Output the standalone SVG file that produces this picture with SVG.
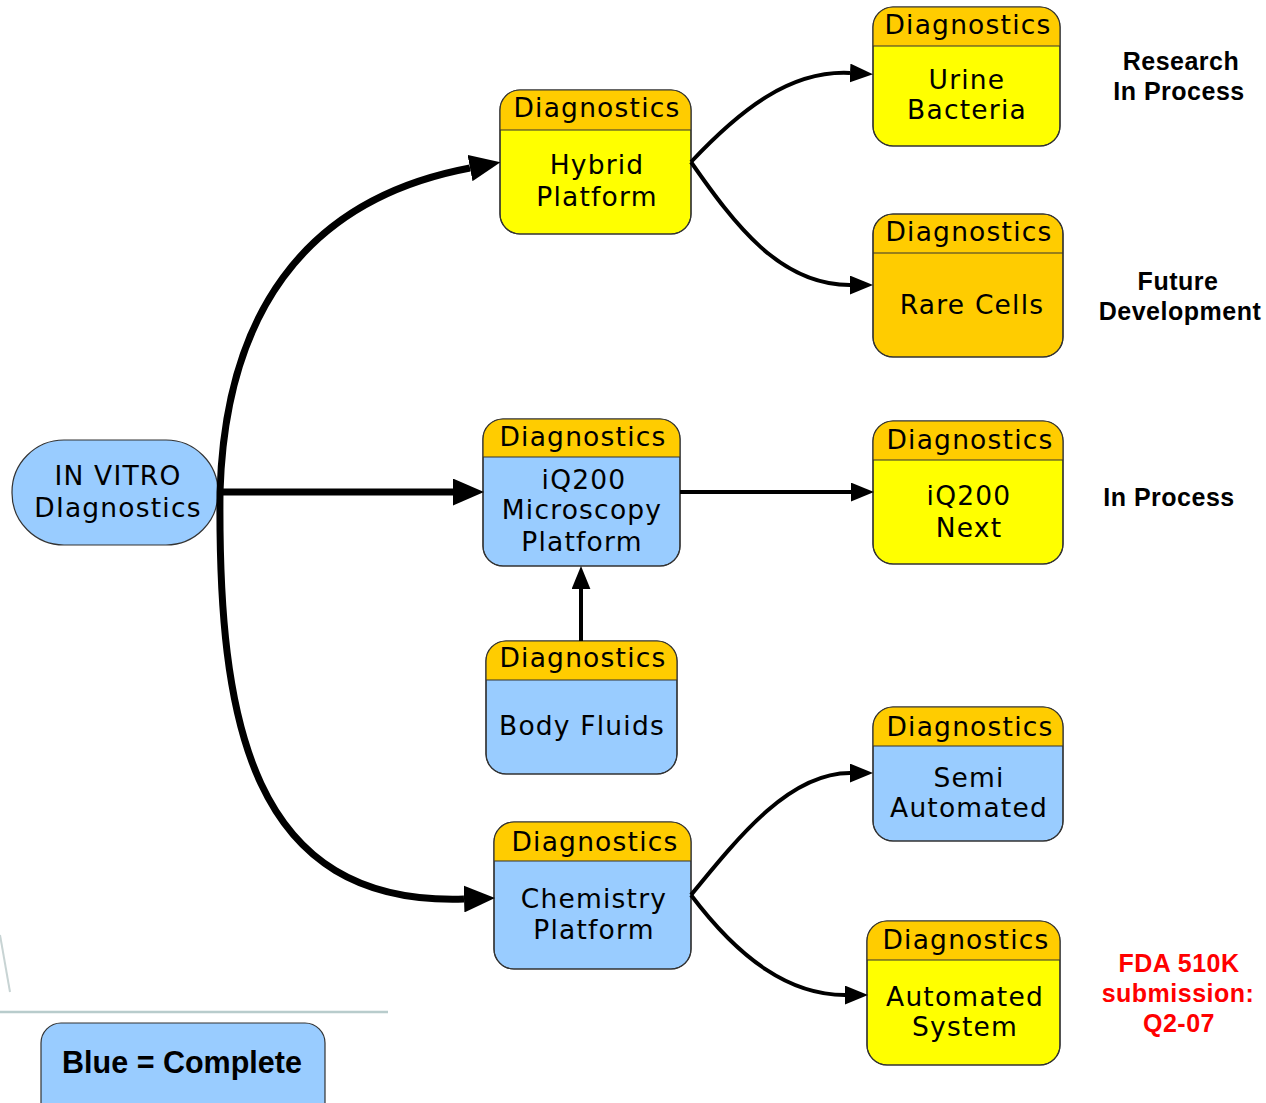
<svg xmlns="http://www.w3.org/2000/svg" width="1266" height="1103" viewBox="0 0 1266 1103">
<defs>
<style>
.box{stroke:#333;stroke-width:1.2}
.blue{fill:#99ccff}
.yel{fill:#ffff00}
.org{fill:#ffcc00}
.hdr{fill:#ffcc00}
.div{stroke:#333;stroke-width:1.2}
.outl{fill:none;stroke:#333;stroke-width:1.2}
.t{font-family:"DejaVu Sans",Verdana,sans-serif;font-size:26.5px;letter-spacing:1.2px;fill:#000;text-anchor:middle}
.lab{font-family:"Liberation Sans",Arial,sans-serif;font-weight:bold;font-size:25px;letter-spacing:0.5px;fill:#000;text-anchor:middle}
.red{fill:#ff0000}
.thick{fill:none;stroke:#000;stroke-width:7}
.thin{fill:none;stroke:#000;stroke-width:4}
</style>
<marker id="ah" markerUnits="userSpaceOnUse" markerWidth="31" markerHeight="27" viewBox="0 0 30 26" refX="0" refY="13" orient="auto"><path d="M0,0 L30,13 L0,26 Z" fill="#000"/></marker>
<marker id="as" markerUnits="userSpaceOnUse" markerWidth="23" markerHeight="19" viewBox="0 0 22 18" refX="0" refY="9" orient="auto"><path d="M0,0 L22,9 L0,18 Z" fill="#000"/></marker>
</defs>
<rect width="1266" height="1103" fill="#fff"/>
<g id="background">
<line x1="0" y1="1012" x2="388" y2="1012" stroke="#b8cccc" stroke-width="2.5"/>
<line x1="0" y1="935" x2="10" y2="992" stroke="#c8d4d4" stroke-width="2"/>
</g>

<g id="invitro">
<rect x="12" y="440" width="206" height="105" rx="52" class="blue box"/>
<text class="t" x="118" y="485">IN VITRO</text>
<text class="t" x="118" y="517">DIagnostics</text>
</g>

<g id="hybrid">
<rect x="500" y="90" width="191" height="144" rx="20" class="yel box"/>
<path d="M500,130 V110 A20,20 0 0 1 520,90 H671 A20,20 0 0 1 691,110 V130 Z" class="hdr"/>
<line x1="500" y1="130" x2="691" y2="130" class="div"/>
<rect x="500" y="90" width="191" height="144" rx="20" class="outl"/>
<text class="t" x="597" y="117">Diagnostics</text>
<text class="t" x="597" y="174">Hybrid</text>
<text class="t" x="597" y="206">Platform</text>
</g>

<g id="urine">
<rect x="873" y="7" width="187" height="139" rx="20" class="yel box"/>
<path d="M873,46 V27 A20,20 0 0 1 893,7 H1040 A20,20 0 0 1 1060,27 V46 Z" class="hdr"/>
<line x1="873" y1="46" x2="1060" y2="46" class="div"/>
<rect x="873" y="7" width="187" height="139" rx="20" class="outl"/>
<text class="t" x="968" y="34">Diagnostics</text>
<text class="t" x="967" y="89">Urine</text>
<text class="t" x="967" y="119">Bacteria</text>
</g>

<g id="rare">
<rect x="873" y="214" width="190" height="143" rx="20" class="org box"/>
<line x1="873" y1="253" x2="1063" y2="253" class="div"/>
<rect x="873" y="214" width="190" height="143" rx="20" class="outl"/>
<text class="t" x="969" y="241">Diagnostics</text>
<text class="t" x="972" y="314">Rare Cells</text>
</g>

<g id="microscopy">
<rect x="483" y="419" width="197" height="147" rx="20" class="blue box"/>
<path d="M483,457 V439 A20,20 0 0 1 503,419 H660 A20,20 0 0 1 680,439 V457 Z" class="hdr"/>
<line x1="483" y1="457" x2="680" y2="457" class="div"/>
<rect x="483" y="419" width="197" height="147" rx="20" class="outl"/>
<text class="t" x="583" y="446">Diagnostics</text>
<text class="t" x="584" y="489">iQ200</text>
<text class="t" x="582" y="519">Microscopy</text>
<text class="t" x="582" y="551">Platform</text>
</g>

<g id="next">
<rect x="873" y="421" width="190" height="143" rx="20" class="yel box"/>
<path d="M873,460 V441 A20,20 0 0 1 893,421 H1043 A20,20 0 0 1 1063,441 V460 Z" class="hdr"/>
<line x1="873" y1="460" x2="1063" y2="460" class="div"/>
<rect x="873" y="421" width="190" height="143" rx="20" class="outl"/>
<text class="t" x="970" y="449">Diagnostics</text>
<text class="t" x="969" y="505">iQ200</text>
<text class="t" x="969" y="537">Next</text>
</g>

<g id="bodyfluids">
<rect x="486" y="641" width="191" height="133" rx="20" class="blue box"/>
<path d="M486,680 V661 A20,20 0 0 1 506,641 H657 A20,20 0 0 1 677,661 V680 Z" class="hdr"/>
<line x1="486" y1="680" x2="677" y2="680" class="div"/>
<rect x="486" y="641" width="191" height="133" rx="20" class="outl"/>
<text class="t" x="583" y="667">Diagnostics</text>
<text class="t" x="582" y="735">Body Fluids</text>
</g>

<g id="semi">
<rect x="873" y="707" width="190" height="134" rx="20" class="blue box"/>
<path d="M873,746 V727 A20,20 0 0 1 893,707 H1043 A20,20 0 0 1 1063,727 V746 Z" class="hdr"/>
<line x1="873" y1="746" x2="1063" y2="746" class="div"/>
<rect x="873" y="707" width="190" height="134" rx="20" class="outl"/>
<text class="t" x="970" y="736">Diagnostics</text>
<text class="t" x="969" y="787">Semi</text>
<text class="t" x="969" y="817">Automated</text>
</g>

<g id="chemistry">
<rect x="494" y="822" width="197" height="147" rx="20" class="blue box"/>
<path d="M494,861 V842 A20,20 0 0 1 514,822 H671 A20,20 0 0 1 691,842 V861 Z" class="hdr"/>
<line x1="494" y1="861" x2="691" y2="861" class="div"/>
<rect x="494" y="822" width="197" height="147" rx="20" class="outl"/>
<text class="t" x="595" y="851">Diagnostics</text>
<text class="t" x="594" y="908">Chemistry</text>
<text class="t" x="594" y="939">Platform</text>
</g>

<g id="automated">
<rect x="867" y="921" width="193" height="144" rx="20" class="yel box"/>
<path d="M867,960 V941 A20,20 0 0 1 887,921 H1040 A20,20 0 0 1 1060,941 V960 Z" class="hdr"/>
<line x1="867" y1="960" x2="1060" y2="960" class="div"/>
<rect x="867" y="921" width="193" height="144" rx="20" class="outl"/>
<text class="t" x="966" y="949">Diagnostics</text>
<text class="t" x="965" y="1006">Automated</text>
<text class="t" x="965" y="1036">System</text>
</g>

<g id="legend">
<rect x="41" y="1023" width="284" height="100" rx="20" class="blue box"/>
<text class="lab" x="182" y="1073" style="font-size:30.5px;letter-spacing:0">Blue = Complete</text>
</g>

<g id="labels">
<text class="lab" x="1181" y="70">Research</text>
<text class="lab" x="1179" y="100">In Process</text>
<text class="lab" x="1178" y="290">Future</text>
<text class="lab" x="1180" y="320">Development</text>
<text class="lab" x="1169" y="506">In Process</text>
<text class="lab red" x="1179" y="972">FDA 510K</text>
<text class="lab red" x="1178" y="1002">submission:</text>
<text class="lab red" x="1179" y="1032">Q2-07</text>
</g>

<g id="connectors">
<path class="thick" d="M220,492 H453" marker-end="url(#ah)"/>
<path class="thick" d="M220,492 C225,320 300,200 470,168" marker-end="url(#ah)"/>
<path class="thick" d="M220,492 C218,720 250,906 464,899" marker-end="url(#ah)"/>
<path class="thin" d="M691,162 C740,110 790,70 850,73" marker-end="url(#as)"/>
<path class="thin" d="M691,162 C735,225 780,285 850,285" marker-end="url(#as)"/>
<path class="thin" d="M680,492 H851" marker-end="url(#as)"/>
<path class="thin" d="M581,641 V589" marker-end="url(#as)"/>
<path class="thin" d="M691,895 C740,835 790,773 850,773" marker-end="url(#as)"/>
<path class="thin" d="M691,895 C740,960 790,995 845,995" marker-end="url(#as)"/>
</g>
</svg>
